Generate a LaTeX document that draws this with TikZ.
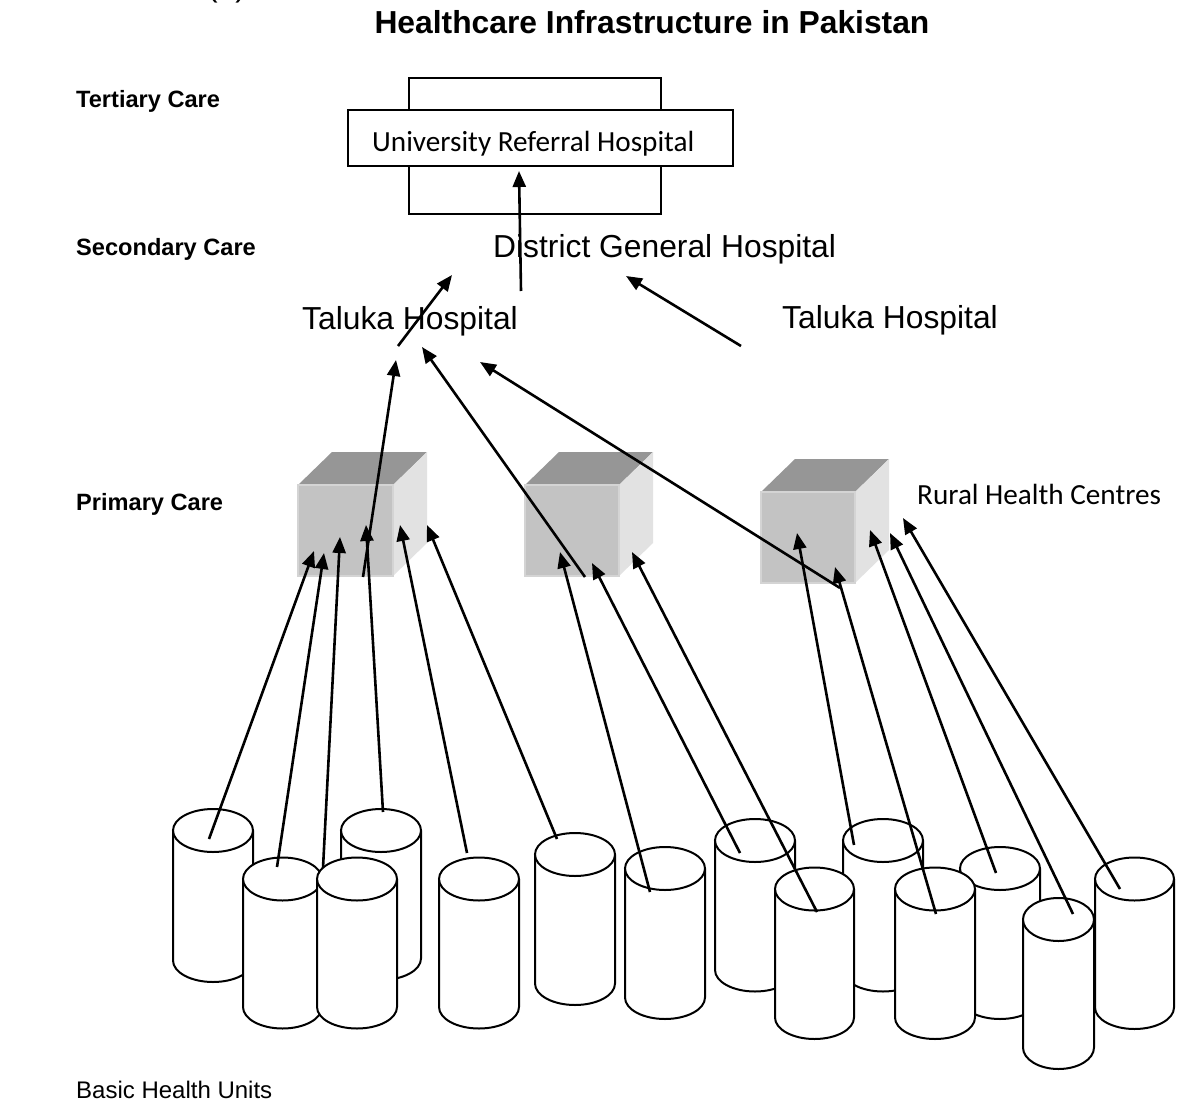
\documentclass[tikz,border=0pt]{standalone}
\usepackage{fontspec}
\setmainfont{Liberation Sans}
\newfontfamily\calibrifont{Carlito}
\usetikzlibrary{arrows.meta}
\definecolor{cubetop}{RGB}{150,150,150}
\definecolor{cubefront}{RGB}{195,195,195}
\definecolor{cubeedge}{RGB}{212,212,212}
\definecolor{cubeside}{RGB}{226,226,226}
\newcommand\mycyl[4]{%
  \path[cylsty] (#1-#2,#3) -- (#1-#2,#4) arc[start angle=180,end angle=360,x radius=#2pt,y radius=21.5pt] -- (#1+#2,#3);
  \path[cylsty] (#1,#3) ellipse[x radius=#2pt,y radius=21.5pt];}
\newcommand\mycube[4]{% left, top, right, bottom of front face
  \fill[cubetop] (#1,#2) -- (#1+34,#2-33) -- (#3+34,#2-33) -- (#3,#2) -- cycle;
  \fill[cubeside] (#3,#2) -- (#3+34,#2-33) -- (#3+34,#4-33) -- (#3,#4) -- cycle;
  \filldraw[fill=cubefront,draw=cubeedge,line width=1.5pt] (#1,#2) rectangle (#3,#4);}
\begin{document}
\begin{tikzpicture}[x=1pt,y=-1pt,
  cylsty/.style={fill=white,draw=black,line width=2pt},
  boxsty/.style={draw=black,fill=white,line width=2pt,inner sep=0pt},
  arr/.style={draw=black,line width=2.6pt,-{Triangle[length=16pt,width=13pt]}},
  lbl/.style={anchor=base west,inner sep=0pt,font=\fontsize{23.6pt}{28pt}\selectfont\bfseries},
  txt/.style={anchor=base west,inner sep=0pt,font=\fontsize{31.8pt}{36pt}\selectfont},
  ctxt/.style={anchor=base west,inner sep=0pt,font=\calibrifont\fontsize{29.2pt}{34pt}\selectfont}]
\useasboundingbox (0,0) rectangle (1178,1108);
\clip (0,0) rectangle (1178,1108);
\fill[white] (0,0) rectangle (1178,1108);

% texts
\node[txt] (atext) at (207,-3) {(a)};
\node[anchor=base,inner sep=0pt,font=\fontsize{31.8pt}{36pt}\selectfont\bfseries] (title) at (652,34) {Healthcare Infrastructure in Pakistan};
\node[lbl] (tert) at (76,107) {Tertiary Care};
\node[lbl] (sec) at (76,255) {Secondary Care};
\node[lbl] (prim) at (76,510) {Primary Care};
\node[anchor=base west,inner sep=0pt,font=\fontsize{24pt}{28pt}\selectfont] (bhu) at (76,1098) {Basic Health Units};

% tertiary cross
\node[boxsty,minimum width=252pt,minimum height=136pt] (vrect) at (535,146) {};
\node[boxsty,minimum width=385pt,minimum height=56pt] (hrect) at (540.5,138) {};
\node[ctxt] (urh) at (372,151) {University Referral Hospital};

\node[txt] (dgh) at (493,257) {District General Hospital};
\node[txt] (tal1) at (302,329) {Taluka Hospital};
\node[txt] (tal2) at (782,328) {Taluka Hospital};
\node[ctxt] (rhc) at (917,504) {Rural Health Centres};

% cubes
\mycube{298}{485}{393}{576}
\mycube{525}{485}{619}{576}
\mycube{761}{492}{855}{583}

% cylinders (back to front)
\mycyl{213}{40}{830.5}{960.5}
\mycyl{381}{40}{830.5}{958.5}
\mycyl{755}{40}{840.5}{970}
\mycyl{883}{40}{840.5}{970}
\mycyl{575}{40}{854.5}{983.5}
\mycyl{665}{40}{868.5}{997.5}
\mycyl{1000}{40}{868.5}{997.5}
\mycyl{282.5}{39.5}{879}{1007}
\mycyl{357}{40}{879}{1007}
\mycyl{479}{40}{879}{1007}
\mycyl{1134.5}{39.5}{879}{1007.5}
\mycyl{814.5}{39.5}{889}{1017.5}
\mycyl{935}{40}{889}{1017.5}
\mycyl{1058.5}{35.5}{919.5}{1047.5}

% arrow end points
\coordinate (a1s) at (209,839);  \coordinate (a1e) at (314,551);
\coordinate (a2s) at (277,867);  \coordinate (a2e) at (324,553);
\coordinate (a3s) at (323,868);  \coordinate (a3e) at (340,537);
\coordinate (a4s) at (383,812);  \coordinate (a4e) at (366,525);
\coordinate (a5s) at (467,853);  \coordinate (a5e) at (400,525);
\coordinate (a6s) at (557,839);  \coordinate (a6e) at (427,525);
\coordinate (b1s) at (650,892);  \coordinate (b1e) at (560,552);
\coordinate (b2s) at (740,853);  \coordinate (b2e) at (592,563);
\coordinate (b3s) at (817,912);  \coordinate (b3e) at (632,552);
\coordinate (c1s) at (854,845);  \coordinate (c1e) at (797,533);
\coordinate (c2s) at (936,914);  \coordinate (c2e) at (835,567);
\coordinate (c3s) at (996,873);  \coordinate (c3e) at (870,530);
\coordinate (c4s) at (1073,914); \coordinate (c4e) at (890,533);
\coordinate (c5s) at (1120,889); \coordinate (c5e) at (903,518);
\coordinate (t1s) at (363,577);  \coordinate (t1e) at (396,360);
\coordinate (t2s) at (585,577);  \coordinate (t2e) at (422,347);
\coordinate (t3s) at (840,588);  \coordinate (t3e) at (480,362);
\coordinate (t4s) at (398,346);  \coordinate (t4e) at (452,275);
\coordinate (t5s) at (741,346);  \coordinate (t5e) at (626,276);
\coordinate (t6s) at (521,291);  \coordinate (t6e) at (519,171);

\foreach \p in {a1,a2,a3,a4,a5,a6,b1,b2,b3,c1,c2,c3,c4,c5,t1,t2,t3,t4,t5,t6}
  \draw[arr] (\p s) -- (\p e);
\end{tikzpicture}
\end{document}
